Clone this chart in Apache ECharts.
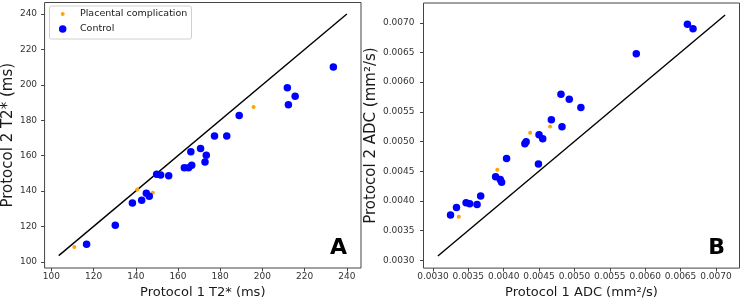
<!DOCTYPE html>
<html><head><meta charset="utf-8">
<script src="https://cdn.jsdelivr.net/npm/echarts@6/dist/echarts.min.js"></script>
<style>html,body{margin:0;padding:0;background:#fff}#c{width:743px;height:304px}</style>
</head><body><div id="c"></div>
<script>
// ---- data ----
const seriesNames = ['Placental complication', 'Control'];

// Panel A: T2* (ms)
const t2PlacentalP1 = [110.9, 140.7, 148.1, 195.8];
const t2PlacentalP2 = [108.3, 140.9, 139.0, 187.4];
const t2ControlP1 = [116.7, 130.3, 138.4, 142.8, 145.0, 146.4, 149.9, 151.8, 155.6, 163.0, 165.0, 166.5, 166.1, 170.7, 172.8, 173.4, 177.3, 183.1, 189.0, 211.8, 212.3, 215.5, 233.6];
const t2ControlP2 = [109.9, 120.6, 133.2, 134.8, 138.8, 137.0, 149.5, 149.0, 148.6, 153.1, 153.1, 154.6, 162.2, 164.0, 156.4, 160.2, 171.1, 171.1, 182.7, 198.4, 188.8, 193.5, 210.0];
const t2Ticks = [100, 120, 140, 160, 180, 200, 220, 240];
const t2IdentityLine = [103.5, 240];

// Panel B: ADC (mm2/s)
const adcPlacentalP1 = [0.003366, 0.003910, 0.004374, 0.004655];
const adcPlacentalP2 = [0.003733, 0.004522, 0.005148, 0.005254];
const adcControlP1 = [0.003249, 0.003333, 0.003469, 0.003520, 0.003624, 0.003675, 0.003886, 0.003952, 0.003971, 0.004041, 0.004299, 0.004318, 0.004491, 0.004500, 0.004552, 0.004674, 0.004810, 0.004824, 0.004927, 0.005091, 0.005874, 0.006597, 0.006676];
const adcControlP2 = [0.003761, 0.003889, 0.003968, 0.003951, 0.003940, 0.004080, 0.004404, 0.004359, 0.004315, 0.004712, 0.004963, 0.004997, 0.004622, 0.005115, 0.005047, 0.005366, 0.005797, 0.005249, 0.005713, 0.005573, 0.006479, 0.006977, 0.006899];
const adcTicks = [0.0030, 0.0035, 0.0040, 0.0045, 0.0050, 0.0055, 0.0060, 0.0065, 0.0070];
const adcIdentityLine = [0.00307, 0.00713];

const panelLetters = ['A', 'B'];
const axisTitles = {
  ax: 'Protocol 1 T2* (ms)', ay: 'Protocol 2 T2* (ms)',
  bx: 'Protocol 1 ADC (mm\u00B2/s)', by: 'Protocol 2 ADC (mm\u00B2/s)'
};

// ---- helpers ----
const FONT = '"DejaVu Sans", sans-serif';
const pairs = (xs, ys) => xs.map((x, i) => [x, ys[i]]);
const COL_ORANGE = '#ffa500', COL_BLUE = '#0000ff';

function makeAxis(opts) {
  return {
    type: 'value',
    gridIndex: opts.grid,
    min: opts.min, max: opts.max,
    name: opts.name,
    nameLocation: 'middle',
    nameGap: opts.nameGap,
    nameTextStyle: { fontFamily: FONT, fontSize: opts.nameSize, color: '#1a1a1a' },
    axisLine: { show: false },
    splitLine: { show: false },
    axisTick: { show: true, length: 3.5, customValues: opts.ticks, lineStyle: { color: '#444', width: 1 } },
    axisLabel: {
      customValues: opts.ticks, margin: opts.labelMargin,
      fontFamily: FONT, fontSize: 9, color: '#333',
      formatter: opts.fmt, hideOverlap: false
    }
  };
}

const fmtInt = v => String(Math.round(v));
const fmt4 = v => v.toFixed(4);

const option = {
  animation: false,
  backgroundColor: '#fff',
  grid: [
    { left: 44, top: 2.5, width: 317, height: 265.5, show: true, borderColor: '#444', borderWidth: 1, backgroundColor: 'transparent' },
    { left: 423.5, top: 3, width: 316, height: 266, show: true, borderColor: '#444', borderWidth: 1, backgroundColor: 'transparent' }
  ],
  xAxis: [
    makeAxis({ grid: 0, min: 96.8, max: 246.7, ticks: t2Ticks, fmt: fmtInt, name: axisTitles.ax, nameGap: 15, nameSize: 13, labelMargin: 4 }),
    makeAxis({ grid: 1, min: 0.002867, max: 0.007333, ticks: adcTicks, fmt: fmt4, name: axisTitles.bx, nameGap: 15, nameSize: 13, labelMargin: 4 })
  ],
  yAxis: [
    makeAxis({ grid: 0, min: 96.5, max: 246.5, ticks: t2Ticks, fmt: fmtInt, name: axisTitles.ay, nameGap: 28, nameSize: 15, labelMargin: 7.5 }),
    makeAxis({ grid: 1, min: 0.002867, max: 0.007333, ticks: adcTicks, fmt: fmt4, name: axisTitles.by, nameGap: 42, nameSize: 15, labelMargin: 9 })
  ],
  legend: [
    { data: [seriesNames[0]], left: 60.7, top: 9, padding: 0, itemWidth: 4, itemHeight: 4, icon: 'circle', z: 5,
      textStyle: { fontFamily: FONT, fontSize: 9.5, color: '#1a1a1a', padding: [0, 0, 0, 10.3] }, selectedMode: false },
    { data: [seriesNames[1]], left: 58.95, top: 24, padding: 0, itemWidth: 7.5, itemHeight: 7.5, icon: 'circle', z: 5,
      textStyle: { fontFamily: FONT, fontSize: 9.5, color: '#1a1a1a', padding: [0, 0, 0, 8.5] }, selectedMode: false }
  ],
  graphic: [
    { type: 'rect', z: 4, shape: { x: 49.5, y: 6, width: 142, height: 33, r: 2 },
      style: { fill: 'rgba(255,255,255,0.85)', stroke: '#d0d0d0', lineWidth: 1 } },
    { type: 'text', z: 6, x: 347, y: 259, style: { text: panelLetters[0], font: 'bold 22px ' + FONT, fill: '#000', textAlign: 'right', textVerticalAlign: 'bottom' } },
    { type: 'text', z: 6, x: 725, y: 259, style: { text: panelLetters[1], font: 'bold 22px ' + FONT, fill: '#000', textAlign: 'right', textVerticalAlign: 'bottom' } }
  ],
  series: [
    { type: 'line', xAxisIndex: 0, yAxisIndex: 0, data: pairs(t2IdentityLine, t2IdentityLine), showSymbol: false, symbol: 'none', silent: true,
      lineStyle: { color: '#000', width: 1.4 }, z: 2 },
    { type: 'line', xAxisIndex: 1, yAxisIndex: 1, data: pairs(adcIdentityLine, adcIdentityLine), showSymbol: false, symbol: 'none', silent: true,
      lineStyle: { color: '#000', width: 1.4 }, z: 2 },
    { name: seriesNames[0], type: 'scatter', xAxisIndex: 0, yAxisIndex: 0, data: pairs(t2PlacentalP1, t2PlacentalP2), symbolSize: 4, itemStyle: { color: COL_ORANGE, opacity: 1 }, z: 3 },
    { name: seriesNames[1], type: 'scatter', xAxisIndex: 0, yAxisIndex: 0, data: pairs(t2ControlP1, t2ControlP2), symbolSize: 7.5, itemStyle: { color: COL_BLUE, opacity: 1 }, z: 3 },
    { name: seriesNames[0], type: 'scatter', xAxisIndex: 1, yAxisIndex: 1, data: pairs(adcPlacentalP1, adcPlacentalP2), symbolSize: 4, itemStyle: { color: COL_ORANGE, opacity: 1 }, z: 3 },
    { name: seriesNames[1], type: 'scatter', xAxisIndex: 1, yAxisIndex: 1, data: pairs(adcControlP1, adcControlP2), symbolSize: 7.5, itemStyle: { color: COL_BLUE, opacity: 1 }, z: 3 }
  ]
};

const chart = echarts.init(document.getElementById('c'), null, { renderer: 'canvas' });
chart.setOption(option);
</script>
</body></html>
